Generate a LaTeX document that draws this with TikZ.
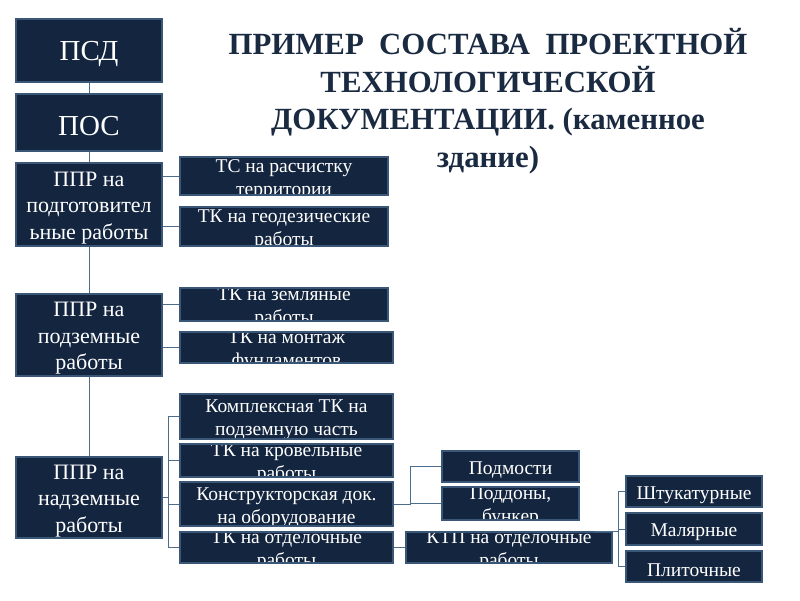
\documentclass[tikz,border=0pt]{standalone}
\usepackage{fontspec}
\setmainfont{Liberation Serif}
\definecolor{boxfill}{HTML}{14253F}
\definecolor{boxline}{HTML}{3B5777}
\definecolor{linkcol}{HTML}{4D6D8D}
\definecolor{titlecol}{HTML}{1A2A40}
\newcommand{\bigf}{\fontsize{29}{33}\selectfont}
\newcommand{\midf}{\fontsize{22}{26.5}\selectfont}
\newcommand{\smf}{\fontsize{19.5}{23}\selectfont}
\begin{document}
\begin{tikzpicture}[x=1pt,y=-1pt,
  darkbox/.style={draw=boxline,line width=1.8pt,fill=boxfill,inner sep=0pt},
  intext/.style 2 args={path picture={\node[text=white,align=center,inner sep=0pt,font=#1] at ([yshift=-3.5pt]path picture bounding box.center) {#2};}},
  link/.style={draw=linkcol,line width=0.8pt}]
\useasboundingbox (0,0) rectangle (800,600);

\node[text=titlecol,align=center,font=\bfseries\fontsize{30.8}{37.5}\selectfont] (title) at (488,101)
  {ПРИМЕР\ \ СОСТАВА\ \ ПРОЕКТНОЙ\\ТЕХНОЛОГИЧЕСКОЙ\\ДОКУМЕНТАЦИИ. (каменное\\здание)};

% left column
\foreach \nm/\cy/\hh/\fnt/\tx in {psd/50.5/63/\bigf/ПСД, pos/122.5/57/\bigf/ПОС,
  ppr1/204.5/83/\midf/{ППР на\\подготовител\\ьные работы},
  ppr2/335/82/\midf/{ППР на\\подземные\\работы},
  ppr3/497.5/81/\midf/{ППР на\\надземные\\работы}}
  \node[darkbox,minimum width=146,minimum height=\hh,intext={\fnt}{\tx}] (\nm) at (89,\cy) {};

% second column
\foreach \nm/\cx/\cy/\ww/\hh/\tx in {ts/284/176/208/38/{ТС на расчистку\\территории},
  tkgeo/284/226.5/208/39/{ТК на геодезические\\работы},
  tkzem/284/304.5/208/33/{ТК на земляные\\работы},
  tkmont/286.5/347.5/213/31/{ТК на монтаж\\фундаментов},
  kompl/286.5/416.5/213/45/{Комплексная ТК на\\подземную часть},
  krov/286.5/460.5/213/33/{ТК на кровельные\\работы},
  konstr/286.5/504/213/44/{Конструкторская док.\\на оборудование},
  otdel/286.5/547.5/213/31/{ТК на отделочные\\работы}}
  \node[darkbox,minimum width=\ww,minimum height=\hh,intext={\smf}{\tx}] (\nm) at (\cx,\cy) {};

% third and fourth columns
\foreach \nm/\cx/\cy/\ww/\hh/\tx in {podm/510.5/466.5/137/31/Подмости,
  poddon/510.5/503.5/137/33/{Поддоны,\\бункер},
  ktp/509/547.5/206/31/{КТП на отделочные\\работы},
  shtuk/694/491.5/136/31/Штукатурные,
  malyar/694/529/136/32/Малярные,
  plit/694/566.5/136/31/Плиточные}
  \node[darkbox,minimum width=\ww,minimum height=\hh,intext={\smf}{\tx}] (\nm) at (\cx,\cy) {};

% connectors
\foreach \a/\b in {psd/pos,pos/ppr1,ppr1/ppr2,ppr2/ppr3}
  \draw[link] (\a) -- (\b);
\foreach \a/\b in {ppr1/ts,ppr1/tkgeo,ppr2/tkzem,ppr2/tkmont}
  \draw[link] (\a.east |- \b.west) -- (\b.west);

\draw[link] (ppr3.east) -- ++(5,0) coordinate (fork3);
\foreach \b in {kompl,krov,konstr,otdel}
  \draw[link] (fork3) |- (\b.west);

\draw[link] (konstr.east) -- ++(16,0) coordinate (fork4);
\foreach \b in {podm,poddon}
  \draw[link] (fork4) |- (\b.west);

\draw[link] (otdel) -- (ktp);
\draw[link] ([xshift=-19pt]ktp.north east) -- ++(24,0) coordinate (fork5);
\foreach \b in {shtuk,malyar,plit}
  \draw[link] (fork5) |- (\b.west);
\end{tikzpicture}
\end{document}
